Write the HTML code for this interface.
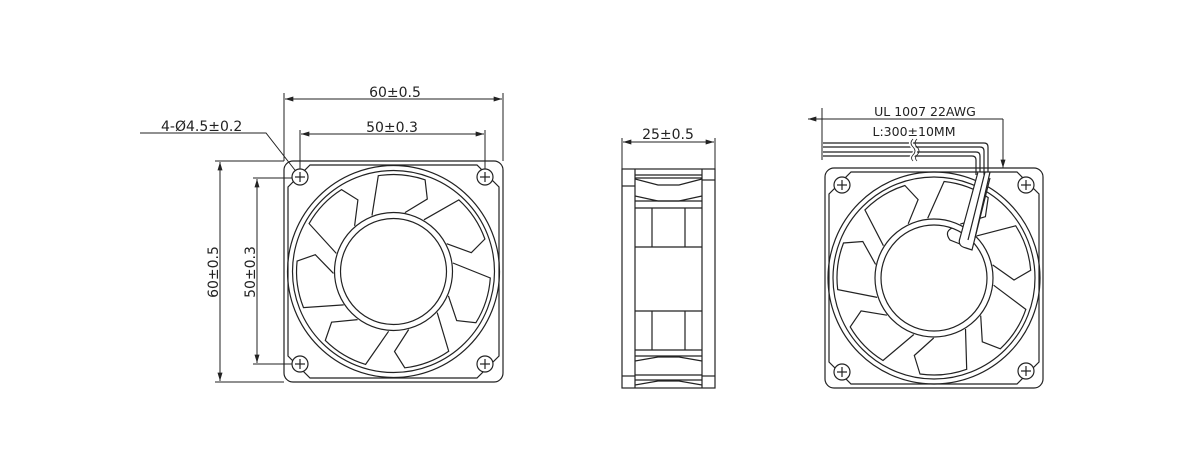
<!DOCTYPE html>
<html><head><meta charset="utf-8"><style>
html,body{margin:0;padding:0;background:#fff}
svg{display:block}
text{font-family:"DejaVu Sans","Liberation Sans",sans-serif;font-size:14px;fill:#222}
</style></head><body>
<svg id="s" width="1182" height="473" viewBox="0 0 1182 473" xmlns="http://www.w3.org/2000/svg">
<defs>
<marker id="a" viewBox="0 0 10 6" refX="10" refY="3" markerWidth="12" markerHeight="5" orient="auto-start-reverse" markerUnits="userSpaceOnUse"><path d="M0,0L10,3L0,6z" fill="#222"/></marker>
</defs>
<g stroke="#222" fill="none" stroke-width="1">
<line x1="284" y1="93" x2="284" y2="161"/><line x1="503" y1="93" x2="503" y2="161"/>
<line x1="285" y1="99" x2="502" y2="99" marker-start="url(#a)" marker-end="url(#a)"/>
<line x1="300" y1="130" x2="300" y2="170"/><line x1="485" y1="130" x2="485" y2="170"/>
<line x1="301" y1="134" x2="484" y2="134" marker-start="url(#a)" marker-end="url(#a)"/>
<polyline points="140,133 266,133 298,174"/>
<line x1="215" y1="161" x2="284" y2="161"/><line x1="215" y1="382" x2="284" y2="382"/>
<line x1="220" y1="162" x2="220" y2="381" marker-start="url(#a)" marker-end="url(#a)"/>
<line x1="253" y1="178" x2="300" y2="178"/><line x1="253" y1="364" x2="300" y2="364"/>
<line x1="257" y1="179" x2="257" y2="363" marker-start="url(#a)" marker-end="url(#a)"/>
<line x1="622" y1="138" x2="622" y2="169"/><line x1="715" y1="138" x2="715" y2="169"/>
<line x1="623" y1="142" x2="714" y2="142" marker-start="url(#a)" marker-end="url(#a)"/>
<line x1="822" y1="108" x2="822" y2="160"/>
<line x1="808" y1="119" x2="1003" y2="119" marker-start="url(#a)"/>
<line x1="1003" y1="119" x2="1003" y2="168" marker-end="url(#a)"/>
</g>
<text x="395" y="97" text-anchor="middle">60±0.5</text>
<text x="392" y="132" text-anchor="middle">50±0.3</text>
<text x="161" y="131">4-Ø4.5±0.2</text>
<text transform="translate(218,272) rotate(-90)" text-anchor="middle">60±0.5</text>
<text transform="translate(255,272) rotate(-90)" text-anchor="middle">50±0.3</text>
<text x="668" y="139" text-anchor="middle">25±0.5</text>
<text x="925" y="116" text-anchor="middle" style="font-size:12.5px">UL 1007 22AWG</text>
<text x="914" y="136" text-anchor="middle" style="font-size:12.5px">L:300±10MM</text>
<g stroke="#222" fill="none" stroke-width="1.2">
<rect x="622" y="169" width="93" height="219"/>
<line x1="635" y1="169" x2="635" y2="388"/><line x1="702" y1="169" x2="702" y2="388"/>
<line x1="622" y1="186" x2="635" y2="186"/><line x1="702" y1="180" x2="715" y2="180"/>
<line x1="635" y1="175" x2="702" y2="175"/><line x1="635" y1="178" x2="702" y2="178"/>
<line x1="635" y1="201" x2="702" y2="201"/><line x1="635" y1="208" x2="702" y2="208"/>
<polyline points="635,179 658,185 679,185 702,179"/>
<polyline points="635,196 658,201 679,201 702,196"/>
<line x1="652" y1="208" x2="652" y2="247"/><line x1="685" y1="208" x2="685" y2="247"/>
<line x1="635" y1="247" x2="702" y2="247"/>
<line x1="635" y1="311" x2="702" y2="311"/>
<line x1="652" y1="311" x2="652" y2="350"/><line x1="685" y1="311" x2="685" y2="350"/>
<line x1="635" y1="350" x2="702" y2="350"/><line x1="635" y1="356" x2="702" y2="356"/>
<polyline points="635,361 658,357 679,357 702,361"/>
<line x1="635" y1="375" x2="702" y2="375"/><line x1="635" y1="380" x2="702" y2="380"/>
<polyline points="635,385 658,381 679,381 702,385"/>
<line x1="622" y1="376" x2="635" y2="376"/><line x1="702" y1="376" x2="715" y2="376"/>
</g>
<g id="fans" stroke="#222" fill="none" stroke-width="1.2"></g>
<g stroke="#222" fill="none" stroke-width="1.2">
<path d="M823,143 H984 Q988,143 988,147 V172"/>
<path d="M823,147 H980 Q984,147 984,151 V175"/>
<path d="M823,152 H976 Q980,152 980,156 V172"/>
<path d="M823,156 H972 Q976,156 976,160 V175"/>
<path d="M913,139 q-4,4 0,8 q4,4 0,8 q-3,3 0,6" stroke="#fff" stroke-width="4"/>
<path d="M913,139 q-4,4 0,8 q4,4 0,8 q-3,3 0,6" stroke-width="0.8"/>
<path d="M917,139 q-4,4 0,8 q4,4 0,8 q-3,3 0,6" stroke-width="0.8"/>
<path d="M978,172 L960,238 Q957,246 966,248 L972,250 L990,178" fill="#fff"/>
<path d="M985,172 L968,240"/><path d="M990,172 L975,238"/>
<path d="M952,228 Q944,232 950,240 L960,244"/>
</g>
</svg>
<script>
(function(){
var g=document.getElementById('fans'),ns='http://www.w3.org/2000/svg';
var D=Math.PI/180;
function el(t,a){var e=document.createElementNS(ns,t);for(var k in a)e.setAttribute(k,a[k]);g.appendChild(e);return e;}
function P(cx,cy,r,ang){return (cx+r*Math.cos(ang)).toFixed(1)+','+(cy+r*Math.sin(ang)).toFixed(1);}
function fan(x0,y0,w,h,hx,rot){
 var cx=x0+w/2,cy=y0+h/2,c=22;
 el('rect',{x:x0,y:y0,width:w,height:h,rx:9});
 var p=[[x0+c+4,y0+4],[x0+w-c-4,y0+4],[x0+w-4,y0+c+4],[x0+w-4,y0+h-c-4],[x0+w-c-4,y0+h-4],[x0+c+4,y0+h-4],[x0+4,y0+h-c-4],[x0+4,y0+c+4]];
 el('polygon',{points:p.map(function(q){return q.join(',');}).join(' ')});
 el('circle',{cx:cx,cy:cy,r:106});
 el('circle',{cx:cx,cy:cy,r:101});
 for(var i=0;i<7;i++){
  var a=(rot+i*360/7)*D;
  var s='M'+P(cx,cy,60,a-16*D)+' L'+P(cx,cy,97,a-4*D)+' A97,97 0 0 1 '+P(cx,cy,97,a+24*D)+' L'+P(cx,cy,80,a+30*D)+' L'+P(cx,cy,60,a+16*D);
  el('path',{d:s,fill:'#fff'});
 }
 el('circle',{cx:cx,cy:cy,r:59,fill:'#fff'});
 el('circle',{cx:cx,cy:cy,r:53});
 hx.forEach(function(q){
  el('circle',{cx:q[0],cy:q[1],r:8,fill:'#fff'});
  el('line',{x1:q[0]-5,y1:q[1],x2:q[0]+5,y2:q[1]});
  el('line',{x1:q[0],y1:q[1]-5,x2:q[0],y2:q[1]+5});
 });
}
fan(284,161,219,221,[[300,177],[485,177],[300,364],[485,364]],-95);
fan(825,168,218,220,[[842,185],[1026,185],[842,372],[1026,371]],-80);
})();
</script>
</body></html>
